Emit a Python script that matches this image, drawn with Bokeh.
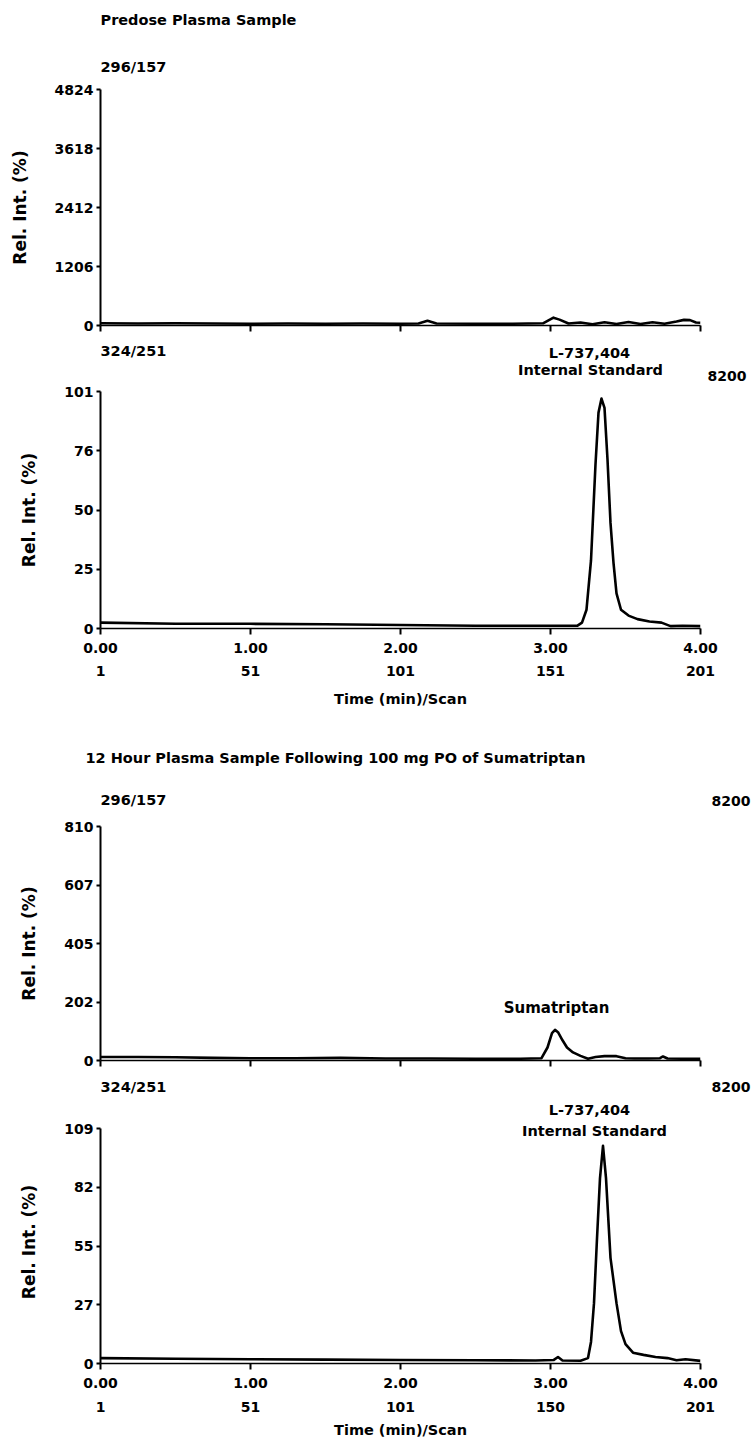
from bokeh.plotting import figure
from bokeh.models import Range1d, FixedTicker, LinearAxis, Label
from bokeh.layouts import column
from bokeh.embed import file_html
from bokeh.resources import INLINE
from bokeh.core.properties import value

FONT = "DejaVu Sans"

# ---------------- data ----------------
x_ticks = [0, 1, 2, 3, 4]
time_labels = ["0.00", "1.00", "2.00", "3.00", "4.00"]
scan_labels_pre = ["1", "51", "101", "151", "201"]
scan_labels_12h = ["1", "51", "101", "150", "201"]

# Panel 1: Predose, 296/157
p1_ymax = 4824
p1_ylabels = ["0", "1206", "2412", "3618", "4824"]
p1_t = [0.00, 0.25, 0.50, 0.75, 1.00, 1.25, 1.50, 1.75, 2.00, 2.12, 2.18, 2.24, 2.50, 2.75,
        2.95, 3.02, 3.06, 3.12, 3.20, 3.28, 3.36, 3.44, 3.52, 3.60, 3.68, 3.76, 3.84, 3.89,
        3.93, 3.97, 4.00]
p1_v = [45, 40, 45, 40, 35, 40, 35, 40, 35, 40, 95, 40, 35, 35,
        45, 160, 120, 40, 60, 25, 65, 30, 70, 30, 65, 35, 80, 115,
        110, 60, 55]

# Panel 2: Predose, 324/251
p2_ymax = 101
p2_ylabels = ["0", "25", "50", "76", "101"]
p2_t = [0.00, 0.50, 1.00, 1.50, 2.00, 2.50, 3.00, 3.18, 3.21, 3.24, 3.27, 3.30, 3.32, 3.34,
        3.36, 3.38, 3.40, 3.42, 3.44, 3.47, 3.52, 3.58, 3.66, 3.74, 3.80, 3.88, 4.00]
p2_v = [2.5, 2.0, 2.0, 1.8, 1.5, 1.2, 1.2, 1.2, 2.5, 8, 29, 70, 92, 98,
        94, 72, 45, 28, 15, 8, 5.5, 4, 3, 2.5, 1, 1.2, 1]

# Panel 3: 12 hour, 296/157
p3_ymax = 810
p3_ylabels = ["0", "202", "405", "607", "810"]
p3_t = [0.00, 0.25, 0.50, 0.75, 1.00, 1.30, 1.60, 1.90, 2.20, 2.50, 2.80, 2.94, 2.98, 3.01,
        3.03, 3.05, 3.08, 3.11, 3.15, 3.20, 3.25, 3.30, 3.36, 3.44, 3.50, 3.56, 3.65, 3.73,
        3.75, 3.78, 3.88, 4.00]
p3_v = [12, 12, 11, 9, 8, 8, 9, 7, 7, 6, 6, 8, 45, 95,
        106, 98, 70, 45, 28, 16, 6, 12, 15, 15, 8, 7, 7, 8,
        14, 7, 6, 6]

# Panel 4: 12 hour, 324/251
p4_ymax = 109
p4_ylabels = ["0", "27", "55", "82", "109"]
p4_t = [0.00, 0.50, 1.00, 1.50, 2.00, 2.50, 2.90, 3.02, 3.05, 3.08, 3.20, 3.25, 3.27, 3.29,
        3.31, 3.33, 3.35, 3.37, 3.40, 3.44, 3.47, 3.50, 3.55, 3.62, 3.70, 3.78, 3.84, 3.90, 4.00]
p4_v = [2.5, 2.2, 2.0, 1.8, 1.6, 1.5, 1.4, 1.6, 3, 1.4, 1.3, 2.5, 10, 28,
        58, 86, 101, 86, 49, 28, 15, 9, 5, 4, 3, 2.5, 1.5, 2, 1.2]

# ---------------- layout ----------------
FIG_W = 756
FRAME_LEFT = 100
FRAME_W = 600
FRAME_RIGHT_BORDER = FIG_W - FRAME_LEFT - FRAME_W


def style_text(size="14.5px"):
    return dict(text_font=value(FONT), text_font_size=value(size), text_font_style="bold",
                text_color="black", text_baseline="middle")


def make_strip(top, bottom, items):
    """Text strip; its data coordinates are page pixels (frame aligned with the panels)."""
    s = figure(width=FIG_W, height=bottom - top,
               x_range=Range1d(FRAME_LEFT, FRAME_LEFT + FRAME_W), y_range=Range1d(bottom, top),
               x_axis_type=None, y_axis_type=None,
               min_border_left=FRAME_LEFT, min_border_right=FRAME_RIGHT_BORDER,
               min_border_top=0, min_border_bottom=0,
               output_backend="svg", toolbar_location=None, tools="")
    s.title.text = ""
    s.outline_line_color = None
    s.xgrid.visible = False
    s.ygrid.visible = False
    for (txt, px, py, align, size) in items:
        s.text(x=[px], y=[py], text=[txt], text_align=align, level="overlay", **style_text(size))
    return s


def make_panel(t, v, ymax, ylabels, fig_top, frame_top, tick_top, frame_bottom, fig_bottom,
               scan_labels=None, row1=8, row2=10, lab=10):
    y_end = ymax * (frame_bottom - frame_top) / (frame_bottom - tick_top)
    p = figure(width=FIG_W, height=fig_bottom - fig_top,
               x_range=Range1d(0, 4), y_range=Range1d(0, y_end),
               min_border_left=FRAME_LEFT,
               min_border_right=FRAME_RIGHT_BORDER,
               min_border_top=frame_top - fig_top,
               min_border_bottom=fig_bottom - frame_bottom,
               output_backend="svg", toolbar_location=None, tools="")
    p.title.text = ""
    p.outline_line_color = None
    p.xgrid.visible = False
    p.ygrid.visible = False

    p.line(t, v, line_color="black", line_width=2.6, line_join="round")

    ya = p.yaxis[0]
    yt = [ymax * k / 4 for k in range(5)]
    ya.ticker = FixedTicker(ticks=yt)
    ya.bounds = (0, ymax)
    ya.major_label_overrides = {yt[i]: ylabels[i] for i in range(5)}
    ya.axis_line_width = 2
    ya.axis_line_color = "black"
    ya.major_tick_out = 4
    ya.major_tick_in = 0
    ya.major_tick_line_width = 2
    ya.minor_tick_line_color = None
    ya.major_label_standoff = 3
    ya.major_label_text_font = FONT
    ya.major_label_text_font_style = "bold"
    ya.major_label_text_font_size = "14px"
    ya.major_label_text_color = "black"
    ya.axis_label = "Rel. Int. (%)"
    ya.axis_label_text_font = FONT
    ya.axis_label_text_font_style = "bold"
    ya.axis_label_text_font_size = "17px"
    ya.axis_label_text_color = "black"
    ya.axis_label_standoff = 22

    xa = p.xaxis[0]
    xa.ticker = FixedTicker(ticks=x_ticks)
    xa.axis_line_width = 1.5
    xa.axis_line_color = "black"
    xa.major_tick_out = 6
    xa.major_tick_in = 0
    xa.major_tick_line_width = 2
    xa.minor_tick_line_color = None
    if scan_labels is None:
        xa.major_label_overrides = {x_ticks[i]: "" for i in range(5)}
        xa.major_label_text_font_size = "0px"
        xa.major_label_standoff = 0
    else:
        xa.major_label_overrides = {x_ticks[i]: time_labels[i] for i in range(5)}
        xa.major_label_text_font = FONT
        xa.major_label_text_font_style = "bold"
        xa.major_label_text_font_size = "14px"
        xa.major_label_text_color = "black"
        xa.major_label_standoff = row1
        sa = LinearAxis(ticker=FixedTicker(ticks=x_ticks))
        sa.major_label_overrides = {x_ticks[i]: scan_labels[i] for i in range(5)}
        sa.axis_line_color = None
        sa.major_tick_line_color = None
        sa.minor_tick_line_color = None
        sa.major_tick_out = 0
        sa.major_tick_in = 0
        sa.major_label_standoff = row2
        sa.major_label_text_font = FONT
        sa.major_label_text_font_style = "bold"
        sa.major_label_text_font_size = "14px"
        sa.major_label_text_color = "black"
        sa.axis_label = "Time (min)/Scan"
        sa.axis_label_text_font = FONT
        sa.axis_label_text_font_style = "bold"
        sa.axis_label_text_font_size = "14.5px"
        sa.axis_label_text_color = "black"
        sa.axis_label_standoff = lab
        p.add_layout(sa, "below")

    geo = dict(frame_top=frame_top, frame_bottom=frame_bottom, y_end=y_end)
    return p, geo


def add_label(p, geo, text, page_x, page_y, align="center", size="14.5px"):
    x = (page_x - FRAME_LEFT) / FRAME_W * 4
    y = (geo["frame_bottom"] - page_y) / (geo["frame_bottom"] - geo["frame_top"]) * geo["y_end"]
    p.add_layout(Label(x=x, y=y, text=text, text_font=FONT, text_font_size=size,
                       text_font_style="bold", text_align=align, text_baseline="middle",
                       text_color="black"))


s1 = make_strip(0, 80, [
    ("Predose Plasma Sample", 100, 19, "left", "14.5px"),
    ("296/157", 100, 66, "left", "14.5px"),
])
f1, g1 = make_panel(p1_t, p1_v, p1_ymax, p1_ylabels, 80, 89, 89, 325, 333)

s2 = make_strip(333, 382, [
    ("324/251", 100, 350, "left", "14.5px"),
    ("L-737,404", 589, 352, "center", "14.5px"),
    ("Internal Standard", 590, 369, "center", "14.5px"),
    ("8200", 746, 375, "right", "14px"),
])
f2, g2 = make_panel(p2_t, p2_v, p2_ymax, p2_ylabels, 382, 391, 391, 628, 712,
                    scan_labels_pre, row1=8, row2=10, lab=12)

s3 = make_strip(712, 816, [
    ("12 Hour Plasma Sample Following 100 mg PO of Sumatriptan", 85, 757, "left", "14.5px"),
    ("296/157", 100, 799, "left", "14.5px"),
    ("8200", 750, 800, "right", "14px"),
])
f3, g3 = make_panel(p3_t, p3_v, p3_ymax, p3_ylabels, 816, 826, 826, 1060, 1068)
add_label(f3, g3, "Sumatriptan", 556, 1007, size="15px")

s4 = make_strip(1068, 1118, [
    ("324/251", 100, 1086, "left", "14.5px"),
    ("8200", 750, 1086, "right", "14px"),
    ("L-737,404", 589, 1109, "center", "14.5px"),
])
f4, g4 = make_panel(p4_t, p4_v, p4_ymax, p4_ylabels, 1118, 1120, 1128, 1363, 1441,
                    scan_labels_12h, row1=8, row2=11, lab=7)
add_label(f4, g4, "Internal Standard", 594, 1130)

page = column(s1, f1, s2, f2, s3, f3, s4, f4, spacing=0)
open("out.html", "w").write(file_html(page, INLINE))
